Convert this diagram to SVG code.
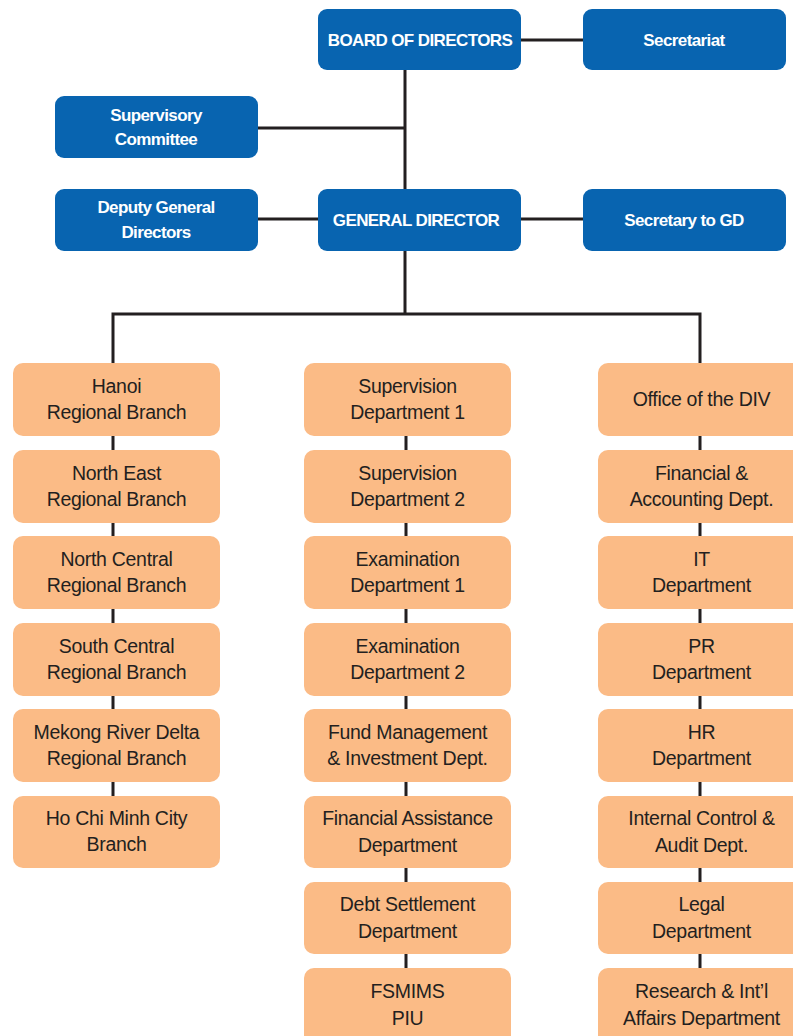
<svg xmlns="http://www.w3.org/2000/svg" width="793" height="1036" viewBox="0 0 793 1036">
<style>
.b{fill:#0864b0}
.o{fill:#fbbb86}
.bt{font-family:"Liberation Sans",Arial,sans-serif;font-weight:bold;font-size:17px;fill:#fff;text-anchor:middle;letter-spacing:-0.6px}
.ot{font-family:"Liberation Sans",Arial,sans-serif;font-size:19.5px;fill:#231f20;text-anchor:middle;letter-spacing:-0.3px}
.c{stroke:#231f20;stroke-width:3;fill:none}
</style>
<g id="connectors">
<path class="c" d="M521 40H583M405 70V189M258 128H405M258 219H318M521 219H583M405 251V314M113 314H700M113 312.5V363M700 312.5V363"/>
<path class="c" d="M113 436V450M113 523V537M113 609V623M113 696V709M113 782V796"/>
<path class="c" d="M406 436V450M406 523V537M406 609V623M406 696V709M406 782V796M406 868V882M406 954V968"/>
<path class="c" d="M700 436V450M700 523V537M700 609V623M700 696V709M700 782V796M700 868V882M700 954V968"/>
</g>
<g id="board"><rect class="b" x="318" y="9" width="203" height="61" rx="9"/><text class="bt" x="420" y="46">BOARD OF DIRECTORS</text></g>
<g id="secretariat"><rect class="b" x="583" y="9" width="203" height="61" rx="9"/><text class="bt" x="684" y="46">Secretariat</text></g>
<g id="supervisory"><rect class="b" x="55" y="96" width="203" height="62" rx="9"/><text class="bt" x="156" y="121">Supervisory</text><text class="bt" x="156" y="145">Committee</text></g>
<g id="deputy"><rect class="b" x="55" y="189" width="203" height="62" rx="9"/><text class="bt" x="156" y="213">Deputy General</text><text class="bt" x="156" y="238">Directors</text></g>
<g id="gd"><rect class="b" x="318" y="189" width="203" height="62" rx="9"/><text class="bt" x="416" y="226">GENERAL DIRECTOR</text></g>
<g id="secgd"><rect class="b" x="583" y="189" width="203" height="62" rx="9"/><text class="bt" x="684" y="226">Secretary to GD</text></g>

<g id="l1"><rect class="o" x="13" y="363" width="207" height="73" rx="10"/><text class="ot" x="116.5" y="393">Hanoi</text><text class="ot" x="116.5" y="419">Regional Branch</text></g>
<g id="l2"><rect class="o" x="13" y="450" width="207" height="73" rx="10"/><text class="ot" x="116.5" y="480">North East</text><text class="ot" x="116.5" y="506">Regional Branch</text></g>
<g id="l3"><rect class="o" x="13" y="536" width="207" height="73" rx="10"/><text class="ot" x="116.5" y="566">North Central</text><text class="ot" x="116.5" y="592">Regional Branch</text></g>
<g id="l4"><rect class="o" x="13" y="623" width="207" height="73" rx="10"/><text class="ot" x="116.5" y="653">South Central</text><text class="ot" x="116.5" y="679">Regional Branch</text></g>
<g id="l5"><rect class="o" x="13" y="709" width="207" height="73" rx="10"/><text class="ot" x="116.5" y="739">Mekong River Delta</text><text class="ot" x="116.5" y="765">Regional Branch</text></g>
<g id="l6"><rect class="o" x="13" y="796" width="207" height="72" rx="10"/><text class="ot" x="116.5" y="825">Ho Chi Minh City</text><text class="ot" x="116.5" y="851">Branch</text></g>

<g id="m1"><rect class="o" x="304" y="363" width="207" height="73" rx="10"/><text class="ot" x="407.5" y="393">Supervision</text><text class="ot" x="407.5" y="419">Department 1</text></g>
<g id="m2"><rect class="o" x="304" y="450" width="207" height="73" rx="10"/><text class="ot" x="407.5" y="480">Supervision</text><text class="ot" x="407.5" y="506">Department 2</text></g>
<g id="m3"><rect class="o" x="304" y="536" width="207" height="73" rx="10"/><text class="ot" x="407.5" y="566">Examination</text><text class="ot" x="407.5" y="592">Department 1</text></g>
<g id="m4"><rect class="o" x="304" y="623" width="207" height="73" rx="10"/><text class="ot" x="407.5" y="653">Examination</text><text class="ot" x="407.5" y="679">Department 2</text></g>
<g id="m5"><rect class="o" x="304" y="709" width="207" height="73" rx="10"/><text class="ot" x="407.5" y="739">Fund Management</text><text class="ot" x="407.5" y="765">&amp; Investment Dept.</text></g>
<g id="m6"><rect class="o" x="304" y="796" width="207" height="72" rx="10"/><text class="ot" x="407.5" y="825">Financial Assistance</text><text class="ot" x="407.5" y="852">Department</text></g>
<g id="m7"><rect class="o" x="304" y="882" width="207" height="72" rx="10"/><text class="ot" x="407.5" y="911">Debt Settlement</text><text class="ot" x="407.5" y="938">Department</text></g>
<g id="m8"><rect class="o" x="304" y="968" width="207" height="80" rx="10"/><text class="ot" x="407.5" y="998">FSMIMS</text><text class="ot" x="407.5" y="1025">PIU</text></g>

<g id="r1"><rect class="o" x="598" y="363" width="207" height="73" rx="10"/><text class="ot" x="701.5" y="406">Office of the DIV</text></g>
<g id="r2"><rect class="o" x="598" y="450" width="207" height="73" rx="10"/><text class="ot" x="701.5" y="480">Financial &amp;</text><text class="ot" x="701.5" y="506">Accounting Dept.</text></g>
<g id="r3"><rect class="o" x="598" y="536" width="207" height="73" rx="10"/><text class="ot" x="701.5" y="566">IT</text><text class="ot" x="701.5" y="592">Department</text></g>
<g id="r4"><rect class="o" x="598" y="623" width="207" height="73" rx="10"/><text class="ot" x="701.5" y="653">PR</text><text class="ot" x="701.5" y="679">Department</text></g>
<g id="r5"><rect class="o" x="598" y="709" width="207" height="73" rx="10"/><text class="ot" x="701.5" y="739">HR</text><text class="ot" x="701.5" y="765">Department</text></g>
<g id="r6"><rect class="o" x="598" y="796" width="207" height="72" rx="10"/><text class="ot" x="701.5" y="825">Internal Control &amp;</text><text class="ot" x="701.5" y="852">Audit Dept.</text></g>
<g id="r7"><rect class="o" x="598" y="882" width="207" height="72" rx="10"/><text class="ot" x="701.5" y="911">Legal</text><text class="ot" x="701.5" y="938">Department</text></g>
<g id="r8"><rect class="o" x="598" y="968" width="207" height="80" rx="10"/><text class="ot" x="701.5" y="998">Research &amp; Int’l</text><text class="ot" x="701.5" y="1025">Affairs Department</text></g>
</svg>
